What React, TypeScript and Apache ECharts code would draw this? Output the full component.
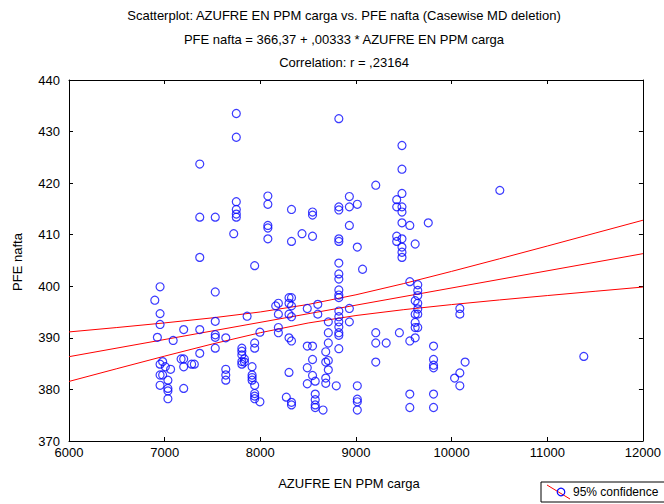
import React, { useEffect, useRef } from "react";
import * as echarts from "echarts";

// AZUFRE EN PPM carga (x) and PFE nafta (y)
const azufre = [
  6897, 6924, 6952, 6952, 6952, 6952, 6952, 6952, 6979, 6979, 7007, 7034, 7034, 7034, 7034, 7062, 7089,
  7172, 7199, 7199, 7199, 7199, 7282, 7310, 7367, 7367, 7367, 7367, 7367,
  7529, 7529, 7529, 7529, 7529, 7529, 7639, 7639, 7639, 7639, 7722,
  7749, 7749, 7749, 7749, 7749, 7749, 7807, 7807, 7807, 7807, 7807, 7834, 7834, 7862,
  7914, 7914, 7914, 7914, 7941, 7941, 7941, 7941, 7941, 7941, 7941, 7996, 7996,
  8079, 8079, 8079, 8079, 8079, 8161, 8189, 8189, 8189, 8189, 8272,
  8300, 8300, 8300, 8300, 8300, 8326, 8326, 8326, 8326, 8326, 8326, 8326, 8326, 8436,
  8491, 8491, 8491, 8491, 8546, 8546, 8546, 8546, 8546, 8546, 8574, 8574, 8574, 8574, 8574,
  8601, 8601, 8656, 8684, 8684, 8684, 8684, 8711, 8711, 8711, 8711, 8711, 8794,
  8821, 8821, 8821, 8821, 8821, 8821, 8821, 8821, 8821, 8821, 8821, 8821, 8821, 8821, 8821, 8821, 8821, 8821,
  8931, 8931, 8931, 8931, 8931, 9014, 9014, 9014, 9014, 9014, 9014, 9069,
  9207, 9207, 9207, 9207, 9316, 9426, 9426, 9426, 9426, 9454,
  9481, 9481, 9481, 9481, 9481, 9481, 9481, 9481, 9481, 9481,
  9563, 9563, 9563, 9563, 9563, 9619, 9619, 9619, 9619, 9619, 9619,
  9646, 9646, 9646, 9646, 9646, 9646, 9646, 9756,
  9811, 9811, 9811, 9811, 9811, 9811, 10031, 10086, 10086, 10086, 10086, 10141, 10504, 11382,
];
const pfeNafta = [
  397.3, 390.1, 399.9, 394.7, 392.6, 384.9, 382.8, 380.8, 385.4, 382.8, 384.4, 381.8, 380.2, 379.7, 378.2, 383.9, 389.5,
  385.9, 391.6, 385.9, 384.4, 380.2, 384.9, 384.9, 423.7, 413.4, 405.6, 391.6, 387.0,
  413.4, 398.9, 393.2, 390.6, 390.1, 388.0, 390.0, 383.9, 382.8, 381.8, 410.2,
  433.5, 428.9, 416.4, 414.9, 414.0, 413.4, 388.0, 387.4, 386.7, 385.4, 384.9, 385.9, 385.3, 394.2,
  384.4, 382.8, 382.3, 381.8, 404.0, 389.0, 388.0, 380.8, 379.2, 378.7, 378.2, 391.1, 377.6,
  417.5, 415.9, 411.8, 411.3, 409.2, 396.2, 396.7, 394.6, 392.0, 391.0, 378.5,
  397.8, 396.7, 394.6, 390.0, 383.3, 414.9, 408.7, 397.8, 396.2, 394.1, 389.4, 377.5, 377.0, 410.2,
  395.7, 388.4, 384.2, 381.1, 414.4, 413.8, 409.7, 388.4, 385.8, 382.7, 381.6, 379.1, 378.0, 377.0, 376.5,
  396.5, 394.6, 376.0, 387.3, 385.3, 382.2, 381.2, 393.1, 391.0, 389.0, 385.6, 383.8, 380.7,
  432.5, 415.4, 414.8, 409.2, 408.7, 404.5, 402.4, 401.4, 399.3, 398.3, 397.8, 395.2, 394.1, 393.1, 392.1, 391.0, 390.5, 387.9,
  417.4, 415.4, 411.8, 395.7, 393.1, 415.9, 407.6, 380.7, 378.1, 377.6, 376.0, 403.3,
  419.6, 391.0, 389.0, 385.3, 389.0, 416.8, 415.4, 409.7, 408.7, 391.0,
  427.3, 422.7, 418.0, 415.4, 414.4, 412.3, 409.2, 407.6, 406.6, 405.6,
  411.8, 400.9, 389.4, 379.1, 376.5, 408.2, 397.2, 394.6, 393.0, 392.0, 390.0,
  400.3, 399.2, 398.2, 396.7, 395.6, 394.6, 392.0, 412.3,
  388.4, 385.8, 384.7, 384.2, 379.1, 376.5, 382.2, 395.7, 394.6, 383.2, 380.7, 385.3, 418.6, 386.4,
];

// regression line and 95% confidence band
const fitX = [6000, 12000];
const fitY = [386.35, 406.33];
const bandX = [6000, 6500, 7000, 7500, 8000, 8500, 9000, 9500, 10000, 10500, 11000, 11500, 12000];
const upper95 = [391.15, 392.0, 392.9, 393.88, 395.02, 396.48, 398.35, 400.53, 402.89, 405.33, 407.8, 410.31, 412.81];
const lower95 = [381.55, 384.02, 386.46, 388.82, 391.0, 392.88, 394.33, 395.47, 396.45, 397.35, 398.2, 399.03, 399.85];

const titleLines = [
  "Scatterplot: AZUFRE EN PPM carga vs. PFE nafta (Casewise MD deletion)",
  "PFE nafta = 366,37 + ,00333 * AZUFRE EN PPM carga",
  "Correlation: r = ,23164",
];
const xName = "AZUFRE EN PPM carga";
const yName = "PFE nafta";
const legendLabel = "95% confidence";

const FONT = "'Liberation Sans', Arial, sans-serif";
const BLUE = "#0a0aff";

export default function App() {
  const ref = useRef<HTMLDivElement>(null);
  useEffect(() => {
    if (!ref.current) return;
    const chart = echarts.init(ref.current, null, { renderer: "svg" });
    const axisBase = {
      type: "value" as const,
      axisLine: { show: true, lineStyle: { color: "#000", width: 1 } },
      axisTick: { show: true, inside: true, length: 4, lineStyle: { color: "#000" } },
      splitLine: { show: false },
    };
    const lineStyle = { color: "#ff0000", width: 1 };
    chart.setOption({
      animation: false,
      backgroundColor: "#fff",
      textStyle: { fontFamily: FONT },
      grid: { left: 69, top: 80, width: 582, height: 361, containLabel: false },
      xAxis: [
        {
          ...axisBase,
          min: 6000,
          max: 12000,
          interval: 1000,
          position: "bottom",
          axisLabel: {
            color: "#000",
            fontSize: 13,
            fontFamily: FONT,
            margin: 5,
            formatter: (v: number) => String(v),
          },
        },
        {
          ...axisBase,
          min: 6000,
          max: 12000,
          interval: 1000,
          position: "top",
          axisLabel: { show: false },
        },
      ],
      yAxis: [
        {
          ...axisBase,
          min: 370,
          max: 440,
          interval: 10,
          position: "left",
          axisLabel: {
            color: "#000",
            fontSize: 13,
            fontFamily: FONT,
            margin: 9,
            formatter: (v: number) => String(v),
          },
        },
        {
          ...axisBase,
          min: 370,
          max: 440,
          interval: 10,
          position: "right",
          axisLabel: { show: false },
        },
      ],
      series: [
        {
          type: "line",
          data: bandX.map((x, i) => [x, upper95[i]]),
          symbol: "none",
          lineStyle,
          z: 2,
        },
        {
          type: "line",
          data: fitX.map((x, i) => [x, fitY[i]]),
          symbol: "none",
          lineStyle,
          z: 2,
        },
        {
          type: "line",
          data: bandX.map((x, i) => [x, lower95[i]]),
          symbol: "none",
          lineStyle,
          z: 2,
        },
        {
          type: "scatter",
          data: azufre.map((x, i) => [x, pfeNafta[i]]),
          symbol: "circle",
          symbolSize: 8,
          itemStyle: { color: "transparent", borderColor: BLUE, borderWidth: 1.2 },
          z: 3,
        },
      ],
      graphic: [
        ...titleLines.map((t, i) => ({
          type: "text",
          x: 344,
          y: [15, 39, 62][i],
          style: {
            text: t,
            fill: "#000",
            font: `13px ${FONT}`,
            textAlign: "center",
            textVerticalAlign: "middle",
          },
        })),
        {
          type: "text",
          x: 349,
          y: 483,
          style: { text: xName, fill: "#000", font: `13px ${FONT}`, textAlign: "center", textVerticalAlign: "middle" },
        },
        {
          type: "text",
          x: 17,
          y: 262,
          rotation: Math.PI / 2,
          style: { text: yName, fill: "#000", font: `13px ${FONT}`, textAlign: "center", textVerticalAlign: "middle" },
        },
        {
          type: "rect",
          shape: { x: 541, y: 482, width: 140, height: 20 },
          style: { fill: "#fff", stroke: "#000", lineWidth: 1 },
        },
        {
          type: "line",
          shape: { x1: 547, y1: 485, x2: 570, y2: 499 },
          style: { stroke: "#ff0000", lineWidth: 1 },
        },
        {
          type: "circle",
          shape: { cx: 561, cy: 492, r: 3.8 },
          style: { fill: "none", stroke: BLUE, lineWidth: 1.2 },
        },
        {
          type: "text",
          x: 573,
          y: 492,
          style: { text: legendLabel, fill: "#000", font: `12px ${FONT}`, textAlign: "left", textVerticalAlign: "middle" },
        },
      ],
    });
    return () => chart.dispose();
  }, []);
  return (
    <div
      ref={ref}
      style={{ position: "fixed", left: 0, top: 0, width: 664, height: 504, background: "#fff" }}
    />
  );
}
